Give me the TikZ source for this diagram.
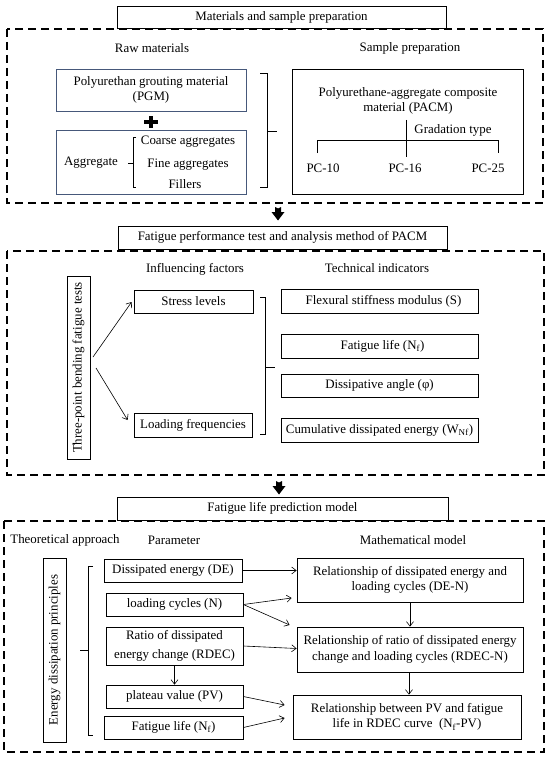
\documentclass[tikz,border=0pt]{standalone}
\usepackage{fontspec}
\setmainfont{Liberation Serif}
\usetikzlibrary{arrows.meta,calc}
\begin{document}
\begin{tikzpicture}[x=1pt,y=-1pt,
  every node/.style={font=\fontsize{12.9pt}{15.5pt}\selectfont, inner sep=0pt, align=center},
  box/.style={draw, line width=0.75pt},
  bluebox/.style={draw={rgb,255:red,70;green,88;blue,122}, line width=0.8pt},
  titlebox/.style={draw, line width=0.75pt, fill=white},
  frame/.style={line width=1.5pt, dash pattern=on 8pt off 5pt},
  arr/.style={-{Straight Barb[length=4.5pt,width=7pt]}, line width=0.6pt},
  brk/.style={line width=0.8pt},
  bigarrow/.style={fill=black}]
\useasboundingbox (0,0) rectangle (550,757);

% ---------------- Section 1 ----------------
\draw[frame] (7,29) rectangle (543,203);
\node[titlebox, minimum width=329pt, minimum height=22pt] (t1) at (281.5,17) {Materials and sample preparation};
\node (rawlbl) at (152,48) {Raw materials};
\node (samplbl) at (410,48) {Sample preparation};

\node[bluebox, minimum width=190pt, minimum height=42pt] (pgm) at (151,90) {Polyurethan grouting material\\(PGM)};
\fill (144,120) rectangle (158,124.5);
\fill (148.8,116) rectangle (153.3,128.5);
\node[bluebox, minimum width=190pt, minimum height=64pt] (agg) at (151,162) {};
\node (agglbl) at (91,163) {Aggregate};
\draw[brk] (128,163) -- (133,163);
\draw[brk] (136,137) -- (133,137) -- (133,187) -- (136,187);
\node (coarse) at (188,142) {Coarse aggregates};
\node (fine) at (188,165) {Fine aggregates};
\node (fillers) at (185,184) {Fillers};
\draw[brk] (260,73) -- (267,73) -- (267,187) -- (260,187);
\draw[brk] (267,131) -- (277,131);

\node[box, minimum width=231pt, minimum height=125pt] (samp) at (407.5,131.5) {};
\node (pacm) at (408,101) {Polyurethane-aggregate composite\\material (PACM)};
\coordinate (g1) at (406,120);
\coordinate (g2) at (406,157);
\draw[brk] (g1) -- (g2);
\node (grad) at (453,130) {Gradation type};
\coordinate (h1) at (317,153);
\coordinate (h2) at (498,153);
\draw[brk] (h1) -- (317,140) -- (498,140) -- (h2);
\node (pc10) at (323,168) {PC-10};
\node (pc16) at (405,168) {PC-16};
\node (pc25) at (488,168) {PC-25};

% big arrow 1
\fill[bigarrow] (275,207) -- (278,208.5) -- (281,207) -- (281,212) -- (284.5,212) -- (278,220.5) -- (271.5,212) -- (275,212) -- cycle;

% ---------------- Section 2 ----------------
\draw[frame] (7,251) rectangle (544,475);
\node[titlebox, minimum width=329pt, minimum height=23pt] (t2) at (282.5,237.5) {Fatigue performance test and analysis method of PACM};
\node (inflbl) at (195,269) {Influencing factors};
\node (techlbl) at (377,268) {Technical indicators};

\node[box, rotate=90, minimum width=183pt, minimum height=23pt] (tp) at (78.5,367.5) {Three-point bending fatigue tests};
\node[box, minimum width=119pt, minimum height=23pt] (stress) at (193.5,301.5) {Stress levels};
\node[box, minimum width=118pt, minimum height=24pt] (loadf) at (193,425) {Loading frequencies};
\draw[arr] ($(tp.center)+(14.5,-10.5)$) -- ($(stress.west)+(-2,0.5)$);
\draw[arr] ($(tp.center)+(17.5,0.5)$) -- ($(loadf.west)+(-6,-5)$);
\draw[brk] (260,297) -- (265,297) -- (265,434) -- (260,434);
\draw[brk] (265,367) -- (275,367);

\node[box, minimum width=197pt, minimum height=24pt] (flex) at (379.5,301) {\hspace*{8pt}Flexural stiffness modulus (S)};
\node[box, minimum width=197pt, minimum height=24pt] (flife) at (379.5,346) {\hspace*{6pt}Fatigue life (N\textsubscript{f})};
\node[box, minimum width=197pt, minimum height=23pt] (dang) at (379.5,385.5) {Dissipative angle (φ)};
\node[box, minimum width=197pt, minimum height=24pt] (cde) at (379.5,430) {Cumulative dissipated energy (W\textsubscript{Nf})};

% big arrow 2
\fill[bigarrow] (276,481) -- (279,482.5) -- (282,481) -- (282,486) -- (285.5,486) -- (279,494.5) -- (272.5,486) -- (276,486) -- cycle;

% ---------------- Section 3 ----------------
\draw[frame] (4,521) rectangle (544,752);
\node[titlebox, minimum width=331pt, minimum height=23pt] (t3) at (282.5,508.5) {Fatigue life prediction model};
\node (thlbl) at (65,540) {Theoretical approach};
\node (parlbl) at (174,540) {Parameter};
\node (mathlbl) at (413,540) {Mathematical model};

\node[box, rotate=90, minimum width=184pt, minimum height=23pt] (edp) at (54.5,650) {Energy dissipation principles};
\draw[brk] (93,566) -- (88,566) -- (88,735) -- (93,735);
\draw[brk] (80,650) -- (88,650);

\node[box, minimum width=138pt, minimum height=23pt] (de) at (173,570.5) {Dissipated energy (DE)};
\node[box, minimum width=137pt, minimum height=23pt] (lc) at (174.5,604.5) {loading cycles (N)};
\node[box, minimum width=137pt, minimum height=38pt, font=\fontsize{12.9pt}{19pt}\selectfont] (rdec) at (174.5,646) {Ratio of dissipated\\energy change (RDEC)};
\node[box, minimum width=137pt, minimum height=23pt] (pv) at (174.5,696.5) {plateau value (PV)};
\node[box, minimum width=139pt, minimum height=23pt] (nf) at (173.5,727.5) {Fatigue life (N\textsubscript{f})};
\draw[arr] (rdec.south) -- (pv.north);

\node[box, minimum width=226pt, minimum height=44pt] (m1) at (410,580) {Relationship of dissipated energy and\\loading cycles (DE-N)};
\node[box, minimum width=226pt, minimum height=45pt] (m2) at (410,649.5) {Relationship of ratio of dissipated energy\\change and loading cycles (RDEC-N)};
\node[box, minimum width=228pt, minimum height=44pt] (m3) at (407,717) {Relationship between PV and fatigue\\life in RDEC curve\ \ (N\textsubscript{f}-PV)};

\draw[arr] (de.east) -- (de.east -| m1.west);
\draw[arr] (lc.east) -- ($(m1.west)+(-5,18)$);
\draw[arr] (lc.east) -- ($(m2.west)+(-7,-24.5)$);
\draw[arr] (rdec.east) -- ($(m2.west)+(0,-1)$);
\draw[arr] (pv.east) -- ($(m3.west)+(-8,-12)$);
\draw[arr] (nf.east) -- ($(m3.west)+(-8,1)$);
\draw[arr] (m1.south) -- (m2.north);
\draw[arr] ($(m2.south)+(-1,0)$) -- ($(m2.south |- m3.north)+(-1,0)$);
\end{tikzpicture}
\end{document}
